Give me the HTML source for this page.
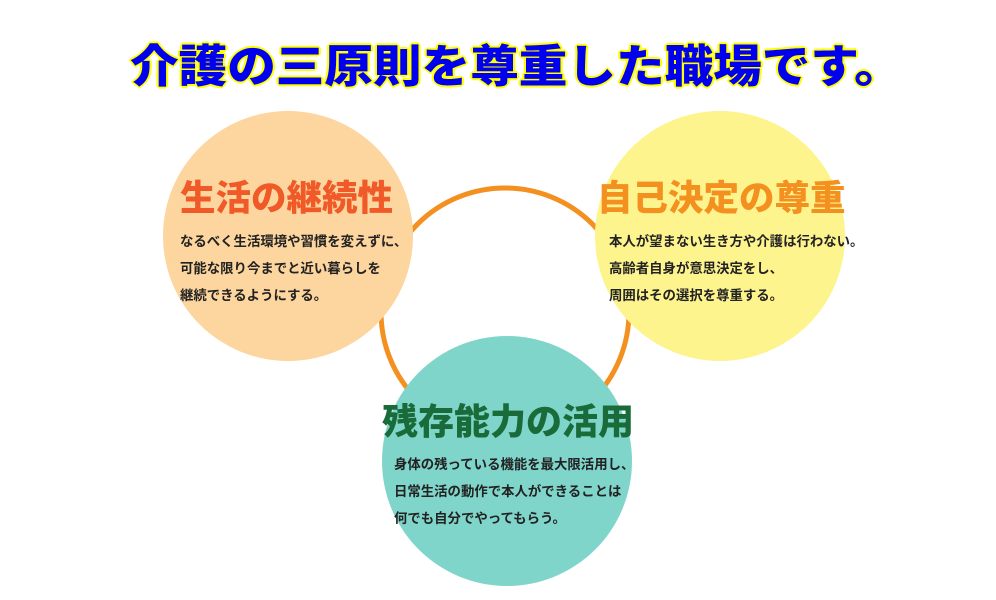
<!DOCTYPE html>
<html><head><meta charset="utf-8"><style>
body{margin:0;width:996px;height:600px;background:#fff;position:relative;overflow:hidden;font-family:"Liberation Sans","Noto Sans CJK JP",sans-serif;}
.t{position:absolute;white-space:nowrap;font-weight:900;}
.c{position:absolute;border-radius:50%;}
.b{position:absolute;font-size:13.4px;line-height:27px;font-weight:bold;color:#222;white-space:nowrap;}
</style></head><body>
<svg width="996" height="600" style="position:absolute;left:0;top:0">
<circle cx="505" cy="312" r="124" fill="none" stroke="#f39020" stroke-width="5"/>
</svg>
<div class="c" style="left:163px;top:111px;width:250px;height:250px;background:#fdd59e"></div>
<div class="c" style="left:595px;top:111px;width:250px;height:250px;background:#fdf48e"></div>
<div class="c" style="left:382px;top:336px;width:250px;height:250px;background:#80d5cb"></div>
<div class="t" style="left:130px;top:30px;font-size:45px;transform:scaleX(1.08);transform-origin:0 0;color:#0000ee;text-shadow:-2px 0 #ff0,2px 0 #ff0,0 -2px #ff0,0 2px #ff0,-1px -1px #ff0,1px 1px #ff0,-1px 1px #ff0,1px -1px #ff0;">介護の三原則を尊重した職場です。</div>
<div class="t" style="left:180px;top:170px;font-size:35.5px;color:#f05a28">生活の継続性</div>
<div class="b" style="left:180px;top:228px">なるべく生活環境や習慣を変えずに、<br>可能な限り今までと近い暮らしを<br>継続できるようにする。</div>
<div class="t" style="left:597px;top:170px;font-size:35.5px;color:#f39020">自己決定の尊重</div>
<div class="b" style="left:609px;top:228px">本人が望まない生き方や介護は行わない。<br>高齢者自身が意思決定をし、<br>周囲はその選択を尊重する。</div>
<div class="t" style="left:382px;top:393px;font-size:36px;color:#1a6b3a">残存能力の活用</div>
<div class="b" style="left:394px;top:451px">身体の残っている機能を最大限活用し、<br>日常生活の動作で本人ができることは<br>何でも自分でやってもらう。</div>
</body></html>
